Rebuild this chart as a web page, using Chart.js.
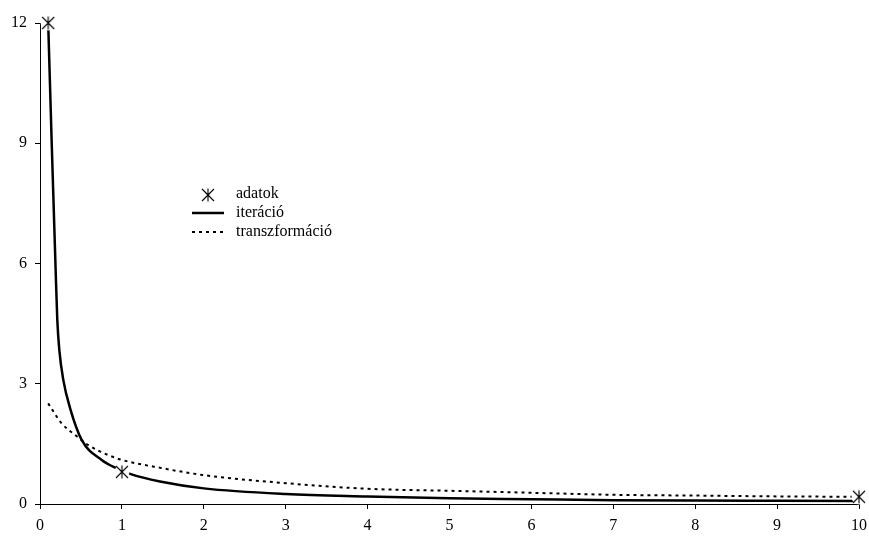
<!DOCTYPE html>
<html lang="hu">
<head>
    <meta charset="UTF-8">
    <title>adatok, iteráció, transzformáció</title>
    <style>
        body {
            margin: 0;
            padding: 0;
            background-color: #ffffff;
        }
        .graph {
            width: 869px;
            height: 537px;
        }
    </style>
    <script src="https://cdn.jsdelivr.net/npm/chart.js"></script>
</head>
<body>
    <div class="graph">
        <canvas id="chartCanvas" width="869" height="537"></canvas>
    </div>
    <script>
        // measured points
        const dataX = [0.1, 1, 10];
        const dataY = [12, 0.8, 0.18];

        // fitted curve by iteration
        const iterX = [0.1, 0.143, 0.19, 0.211, 0.236, 0.285, 0.366, 0.509, 0.753, 0.936, 1.1, 1.465, 2, 3, 4, 5, 6, 7, 8, 9, 10];
        const iterY = [12, 9.0, 5.9, 4.6, 3.84, 3.09, 2.4, 1.6, 1.1, 0.89, 0.75, 0.56, 0.39, 0.25, 0.19, 0.145, 0.12, 0.095, 0.085, 0.08, 0.075];

        // fitted curve by transformation
        const transX = [0.1, 0.265, 0.43, 0.59, 0.834, 1, 1.5, 2, 3, 4, 5, 6, 7, 8, 9, 10];
        const transY = [2.51, 2.01, 1.72, 1.47, 1.22, 1.1, 0.89, 0.72, 0.52, 0.38, 0.33, 0.28, 0.23, 0.21, 0.19, 0.18];

        const seriesNames = ['adatok', 'iteráció', 'transzformáció'];
        const xTicks = [0, 1, 2, 3, 4, 5, 6, 7, 8, 9, 10];
        const yTicks = [0, 3, 6, 9, 12];

        const font = '"Liberation Serif", "Times New Roman", serif';

        // asterisk marker, optionally with a white disc behind it
        function makeStar(withDisc) {
            const c = document.createElement('canvas');
            c.width = 18;
            c.height = 18;
            const g = c.getContext('2d');
            const m = 9;
            if (withDisc) {
                g.fillStyle = '#ffffff';
                g.beginPath();
                g.arc(m, m, 7.5, 0, Math.PI * 2);
                g.fill();
            }
            g.strokeStyle = '#000000';
            g.lineWidth = 1.1;
            const r = 6.5;
            const d = 6;
            g.beginPath();
            g.moveTo(m - d, m - d); g.lineTo(m + d, m + d);
            g.moveTo(m + d, m - d); g.lineTo(m - d, m + d);
            g.moveTo(m, m - r); g.lineTo(m, m + r);
            g.stroke();
            return c;
        }
        const starMarker = makeStar(true);
        const starLegend = makeStar(false);

        function toPoints(xs, ys) {
            return xs.map((x, i) => ({ x: x, y: ys[i] }));
        }

        // legend drawn inside the plot area
        const innerLegend = {
            id: 'innerLegend',
            afterDraw(chart) {
                const ctx = chart.ctx;
                ctx.save();
                ctx.drawImage(starLegend, 208 - 9, 195 - 9);

                ctx.strokeStyle = '#000000';
                ctx.lineWidth = 2.5;
                ctx.beginPath();
                ctx.moveTo(192, 213);
                ctx.lineTo(224, 213);
                ctx.stroke();

                ctx.lineWidth = 2;
                ctx.setLineDash([3, 4]);
                ctx.beginPath();
                ctx.moveTo(192, 232);
                ctx.lineTo(224, 232);
                ctx.stroke();
                ctx.setLineDash([]);

                ctx.fillStyle = '#000000';
                ctx.font = '16px ' + font;
                ctx.textBaseline = 'middle';
                ctx.textAlign = 'left';
                ctx.fillText(seriesNames[0], 236, 194);
                ctx.fillText(seriesNames[1], 236, 213);
                ctx.fillText(seriesNames[2], 236, 232);
                ctx.restore();
            }
        };

        const ctx = document.getElementById('chartCanvas').getContext('2d');
        new Chart(ctx, {
            type: 'line',
            data: {
                datasets: [
                    {
                        label: seriesNames[0],
                        data: toPoints(dataX, dataY),
                        showLine: false,
                        clip: false,
                        pointStyle: starMarker,
                        pointRadius: 8,
                        borderColor: '#000000'
                    },
                    {
                        label: seriesNames[1],
                        data: toPoints(iterX, iterY),
                        borderColor: '#000000',
                        borderWidth: 2.5,
                        pointRadius: 0,
                        cubicInterpolationMode: 'monotone'
                    },
                    {
                        label: seriesNames[2],
                        data: toPoints(transX, transY),
                        borderColor: '#000000',
                        borderWidth: 2,
                        borderDash: [3, 4],
                        pointRadius: 0,
                        cubicInterpolationMode: 'monotone'
                    }
                ]
            },
            options: {
                responsive: false,
                animation: false,
                layout: {
                    padding: { top: 23, right: 10, left: 0, bottom: 0 }
                },
                plugins: {
                    legend: { display: false },
                    tooltip: { enabled: false }
                },
                scales: {
                    x: {
                        type: 'linear',
                        min: 0,
                        max: 10,
                        afterFit(scale) {
                            scale.height = 33;
                            // keep the plot edges fixed, labels may overhang
                            scale.paddingLeft = 0;
                            scale.paddingRight = 0;
                        },
                        afterBuildTicks(scale) {
                            scale.ticks = xTicks.map(v => ({ value: v }));
                        },
                        grid: {
                            drawOnChartArea: false,
                            drawTicks: true,
                            tickLength: 5,
                            color: '#000000'
                        },
                        border: { color: '#000000', width: 1 },
                        ticks: {
                            color: '#000000',
                            padding: 7,
                            maxRotation: 0,
                            font: { family: font, size: 16 }
                        }
                    },
                    y: {
                        min: 0,
                        max: 12,
                        afterFit(scale) {
                            scale.width = 40;
                            scale.paddingTop = 0;
                            scale.paddingBottom = 0;
                        },
                        afterBuildTicks(scale) {
                            scale.ticks = yTicks.map(v => ({ value: v }));
                        },
                        grid: {
                            drawOnChartArea: false,
                            drawTicks: true,
                            tickLength: 5,
                            color: '#000000'
                        },
                        border: { color: '#000000', width: 1 },
                        ticks: {
                            color: '#000000',
                            padding: 8,
                            font: { family: font, size: 16 }
                        }
                    }
                }
            },
            plugins: [innerLegend]
        });
    </script>
</body>
</html>
